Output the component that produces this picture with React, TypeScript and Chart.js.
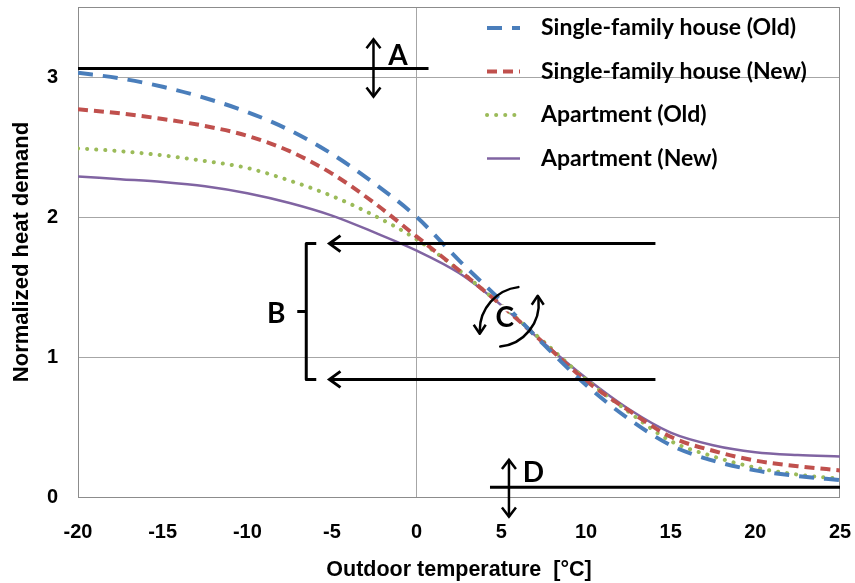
import { useEffect, useRef } from "react";
import { Chart, registerables } from "chart.js";

Chart.register(...registerables);

// Outdoor temperature samples [°C]
const temperatures = [-20, -17.5, -15, -12.5, -10, -7.5, -5, -2.5, 0, 2.5, 5, 7.5, 10, 12.5, 15, 17.5, 20, 22.5, 25];

// Normalized heat demand per building type
const singleFamilyOld = [3.03, 2.99, 2.93, 2.85, 2.75, 2.62, 2.45, 2.24, 2.0, 1.69, 1.4, 1.09, 0.8, 0.56, 0.37, 0.26, 0.19, 0.15, 0.12];
const singleFamilyNew = [2.77, 2.74, 2.7, 2.65, 2.58, 2.47, 2.31, 2.1, 1.86, 1.62, 1.37, 1.1, 0.83, 0.62, 0.43, 0.33, 0.26, 0.22, 0.19];
const apartmentOld = [2.49, 2.47, 2.44, 2.4, 2.35, 2.26, 2.15, 2.01, 1.84, 1.62, 1.37, 1.11, 0.84, 0.61, 0.4, 0.29, 0.21, 0.16, 0.13];
const apartmentNew = [2.29, 2.27, 2.25, 2.22, 2.17, 2.1, 2.01, 1.89, 1.76, 1.6, 1.37, 1.1, 0.85, 0.63, 0.46, 0.37, 0.32, 0.3, 0.29];

const seriesLabels = ["Single-family house (Old)", "Single-family house (New)", "Apartment (Old)", "Apartment (New)"];
const xTicks = [-20, -15, -10, -5, 0, 5, 10, 15, 20, 25];
const yTicks = [0, 1, 2, 3];

// Annotation anchors in data units
const levelA = { y: 3.06, xFrom: -20, xTo: 0.7, arrowX: -2.55, arrowTop: 3.27, arrowBottom: 2.86, labelX: -1.1, labelY: 3.15 };
const rangeB = { yTop: 1.81, yBottom: 0.84, xFrom: 14.1, xTo: -5.15, bracketX: -6.52, labelX: -8.3, labelY: 1.31 };
const pivotC = { x: 5.2, y: 1.28 };
const levelD = { y: 0.07, xFrom: 4.33, xTo: 25, arrowX: 5.45, arrowTop: 0.265, arrowBottom: -0.14, labelX: 6.9, labelY: 0.17 };

const FONT = "'Liberation Sans', Arial, sans-serif";
const LEGEND_FONT = "Lato, 'Open Sans', sans-serif";

const toPoints = (ys: number[]) => ys.map((y, i) => ({ x: temperatures[i], y }));

function chevron(ctx: CanvasRenderingContext2D, x: number, y: number, dir: "up" | "down" | "left", len = 9, half = 7) {
  ctx.beginPath();
  if (dir === "left") {
    ctx.moveTo(x + len, y - half);
    ctx.lineTo(x, y);
    ctx.lineTo(x + len, y + half);
  } else {
    const s = dir === "up" ? 1 : -1;
    ctx.moveTo(x - half, y + s * len);
    ctx.lineTo(x, y);
    ctx.lineTo(x + half, y + s * len);
  }
  ctx.stroke();
}

const frameAndNotes = {
  id: "frameAndNotes",
  beforeDatasetsDraw(chart: any) {
    const { ctx, chartArea: a } = chart;
    ctx.save();
    ctx.strokeStyle = "#8c8c8c";
    ctx.lineWidth = 1;
    ctx.strokeRect(a.left + 0.5, a.top + 0.5, a.right - a.left - 1, a.bottom - a.top);
    ctx.restore();
  },
  afterDatasetsDraw(chart: any) {
    const { ctx, scales, chartArea: area } = chart;
    const X = (v: number) => scales.x.getPixelForValue(v);
    const Y = (v: number) => scales.y.getPixelForValue(v);
    ctx.save();
    ctx.strokeStyle = "#000";
    ctx.fillStyle = "#000";
    ctx.lineWidth = 3;
    ctx.lineCap = "butt";
    ctx.lineJoin = "miter";

    // A: upper saturation level
    ctx.beginPath();
    ctx.moveTo(X(levelA.xFrom), Y(levelA.y));
    ctx.lineTo(X(levelA.xTo), Y(levelA.y));
    ctx.stroke();
    ctx.lineWidth = 2.5;
    ctx.beginPath();
    ctx.moveTo(X(levelA.arrowX), Y(levelA.arrowTop));
    ctx.lineTo(X(levelA.arrowX), Y(levelA.arrowBottom));
    ctx.stroke();
    chevron(ctx, X(levelA.arrowX), Y(levelA.arrowTop), "up");
    chevron(ctx, X(levelA.arrowX), Y(levelA.arrowBottom), "down");

    // D: lower level
    ctx.lineWidth = 3;
    ctx.beginPath();
    ctx.moveTo(X(levelD.xFrom), Y(levelD.y));
    ctx.lineTo(Math.min(X(levelD.xTo), area.right), Y(levelD.y));
    ctx.stroke();
    ctx.lineWidth = 2.5;
    ctx.beginPath();
    ctx.moveTo(X(levelD.arrowX), Y(levelD.arrowTop));
    ctx.lineTo(X(levelD.arrowX), Y(levelD.arrowBottom));
    ctx.stroke();
    chevron(ctx, X(levelD.arrowX), Y(levelD.arrowTop), "up");
    chevron(ctx, X(levelD.arrowX), Y(levelD.arrowBottom), "down");

    // B: range arrows and bracket
    ctx.lineWidth = 3;
    for (const yv of [rangeB.yTop, rangeB.yBottom]) {
      ctx.beginPath();
      ctx.moveTo(X(rangeB.xFrom), Y(yv));
      ctx.lineTo(X(rangeB.xTo), Y(yv));
      ctx.stroke();
      chevron(ctx, X(rangeB.xTo), Y(yv), "left", 11, 8);
    }
    const bx = X(rangeB.bracketX);
    const bt = Y(rangeB.yTop);
    const bb = Y(rangeB.yBottom);
    ctx.lineJoin = "round";
    ctx.beginPath();
    ctx.moveTo(bx + 10, bt);
    ctx.lineTo(bx, bt);
    ctx.lineTo(bx, bb);
    ctx.lineTo(bx + 10, bb);
    ctx.stroke();
    const bm = (bt + bb) / 2;
    ctx.beginPath();
    ctx.moveTo(bx, bm);
    ctx.lineTo(bx - 9, bm);
    ctx.stroke();

    // C: rotation arrows around the pivot
    const cx = X(pivotC.x);
    const cy = Y(pivotC.y);
    ctx.lineWidth = 2.5;
    ctx.lineCap = "round";
    ctx.beginPath();
    ctx.arc(cx + 19, cy + 13, 44, (-97 * Math.PI) / 180, Math.PI, true);
    ctx.stroke();
    ctx.lineCap = "butt";
    chevron(ctx, cx - 25, cy + 16, "down", 9, 6);
    ctx.lineCap = "round";
    ctx.beginPath();
    ctx.arc(cx - 9, cy - 14, 43, (84 * Math.PI) / 180, (-8 * Math.PI) / 180, true);
    ctx.stroke();
    ctx.lineCap = "butt";
    chevron(ctx, cx + 33, cy - 22, "up", 9, 6);

    // Letters
    ctx.font = `bold 28px ${LEGEND_FONT}`;
    ctx.textAlign = "center";
    ctx.textBaseline = "middle";
    ctx.fillText("A", X(levelA.labelX), Y(levelA.labelY));
    ctx.fillText("B", X(rangeB.labelX), Y(rangeB.labelY));
    ctx.fillText("D", X(levelD.labelX), Y(levelD.labelY));
    ctx.lineWidth = 4;
    ctx.strokeStyle = "#fff";
    ctx.lineJoin = "round";
    ctx.strokeText("C", cx, cy);
    ctx.fillText("C", cx, cy);
    ctx.restore();

    // Legend inside the plot area
    ctx.save();
    const lx = area.left + 409;
    const ty = area.top + 21;
    chart.data.datasets.forEach((ds: any, i: number) => {
      const y = ty + i * 43.5;
      ctx.strokeStyle = ds.borderColor;
      ctx.lineWidth = ds.borderWidth;
      ctx.lineCap = ds.borderCapStyle || "butt";
      ctx.setLineDash(ds.borderDash || []);
      ctx.beginPath();
      ctx.moveTo(lx, y);
      ctx.lineTo(lx + 33, y);
      ctx.stroke();
      ctx.setLineDash([]);
      ctx.fillStyle = "#000";
      ctx.font = `bold 23px ${LEGEND_FONT}`;
      ctx.textAlign = "left";
      ctx.textBaseline = "middle";
      ctx.fillText(ds.label, lx + 54, y);
    });
    ctx.restore();
  },
};

export default function App() {
  const canvasRef = useRef<HTMLCanvasElement | null>(null);

  useEffect(() => {
    const canvas = canvasRef.current;
    if (!canvas) return;
    const chart = new Chart(canvas, {
      type: "line",
      data: {
        datasets: [
          {
            label: seriesLabels[0],
            data: toPoints(singleFamilyOld),
            borderColor: "#4a7ebb",
            borderWidth: 4,
            borderDash: [15, 10],
            borderCapStyle: "butt",
            pointRadius: 0,
            cubicInterpolationMode: "monotone",
          },
          {
            label: seriesLabels[1],
            data: toPoints(singleFamilyNew),
            borderColor: "#c0504d",
            borderWidth: 4,
            borderDash: [10, 6],
            borderCapStyle: "butt",
            pointRadius: 0,
            cubicInterpolationMode: "monotone",
          },
          {
            label: seriesLabels[2],
            data: toPoints(apartmentOld),
            borderColor: "#9bbb59",
            borderWidth: 4,
            borderDash: [0.1, 9],
            borderCapStyle: "round",
            pointRadius: 0,
            cubicInterpolationMode: "monotone",
          },
          {
            label: seriesLabels[3],
            data: toPoints(apartmentNew),
            borderColor: "#8064a2",
            borderWidth: 2.5,
            borderCapStyle: "butt",
            pointRadius: 0,
            cubicInterpolationMode: "monotone",
          },
        ] as any,
      },
      options: {
        responsive: false,
        animation: false,
        layout: { padding: { top: 7, right: 15, left: 0, bottom: 0 } },
        plugins: { legend: { display: false }, tooltip: { enabled: false } },
        scales: {
          x: {
            type: "linear",
            min: -20,
            max: 25,
            afterBuildTicks: (s: any) => {
              s.ticks = xTicks.map((value) => ({ value }));
            },
            afterFit: (s: any) => {
              s.height = 86;
              s.paddingLeft = 0;
              s.paddingRight = 0;
            },
            grid: {
              drawTicks: false,
              color: (c: any) => (c.tick && c.tick.value === 0 ? "#a6a6a6" : "rgba(0,0,0,0)"),
            },
            border: { display: false },
            ticks: {
              padding: 23,
              color: "#000",
              font: { family: FONT, size: 20, weight: "bold" },
              maxRotation: 0,
            },
            title: {
              display: true,
              text: "Outdoor temperature  [°C]",
              color: "#000",
              font: { family: FONT, size: 21.5, weight: "bold" },
              padding: { top: 12, bottom: 0 },
            },
          },
          y: {
            type: "linear",
            min: 0,
            max: 3.5,
            afterBuildTicks: (s: any) => {
              s.ticks = yTicks.map((value) => ({ value }));
            },
            afterFit: (s: any) => {
              s.width = 78;
              s.paddingTop = 0;
              s.paddingBottom = 0;
            },
            grid: {
              drawTicks: false,
              color: (c: any) => (c.tick && c.tick.value > 0 ? "#a6a6a6" : "rgba(0,0,0,0)"),
            },
            border: { display: false },
            ticks: {
              padding: 20,
              color: "#000",
              font: { family: FONT, size: 20, weight: "bold" },
            },
            title: {
              display: true,
              text: "Normalized heat demand",
              color: "#000",
              font: { family: FONT, size: 22, weight: "bold" },
              padding: { top: 9, bottom: 2 },
            },
          },
        },
      },
      plugins: [frameAndNotes],
    });
    return () => chart.destroy();
  }, []);

  return (
    <div style={{ position: "absolute", left: 0, top: 0, width: 855, height: 583, background: "#fff" }}>
      <canvas ref={canvasRef} width={855} height={583} />
    </div>
  );
}
